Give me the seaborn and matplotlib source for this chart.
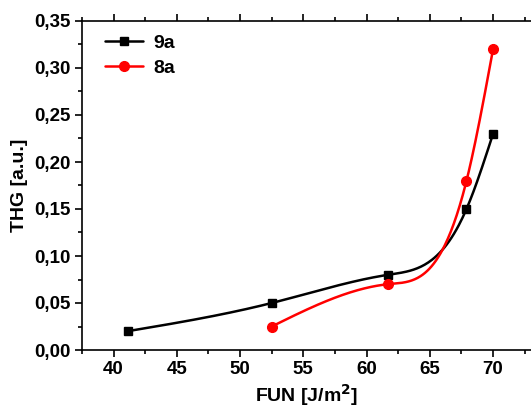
import numpy as np
import pandas as pd
import matplotlib
matplotlib.use("Agg")
import matplotlib.pyplot as plt
from matplotlib.lines import Line2D
from matplotlib.ticker import MultipleLocator, FuncFormatter
import seaborn as sns

# Data
fun_9a = [41.1, 52.5, 61.7, 67.9, 70.0]
thg_9a = [0.020, 0.050, 0.080, 0.150, 0.230]
fun_8a = [52.5, 61.7, 67.9, 70.0]
thg_8a = [0.025, 0.070, 0.180, 0.320]
labels = ["9a", "8a"]
colors = ["black", "red"]
markers = ["s", "o"]


def natural_spline(x, y, n=300):
    x = np.asarray(x, float); y = np.asarray(y, float)
    m = len(x)
    h = np.diff(x)
    A = np.zeros((m, m)); b = np.zeros(m)
    A[0, 0] = 1; A[-1, -1] = 1
    for i in range(1, m - 1):
        A[i, i - 1] = h[i - 1]
        A[i, i] = 2 * (h[i - 1] + h[i])
        A[i, i + 1] = h[i]
        b[i] = 3 * ((y[i + 1] - y[i]) / h[i] - (y[i] - y[i - 1]) / h[i - 1])
    c = np.linalg.solve(A, b)
    xs = np.linspace(x[0], x[-1], n)
    ys = np.empty_like(xs)
    for k, xv in enumerate(xs):
        i = min(np.searchsorted(x, xv, side="right") - 1, m - 2)
        i = max(i, 0)
        dx = xv - x[i]
        bb = (y[i + 1] - y[i]) / h[i] - h[i] * (2 * c[i] + c[i + 1]) / 3
        d = (c[i + 1] - c[i]) / (3 * h[i])
        ys[k] = y[i] + bb * dx + c[i] * dx ** 2 + d * dx ** 3
    return xs, ys


sns.set_style("ticks")
plt.rcParams["font.family"] = ["Liberation Sans", "DejaVu Sans"]
plt.rcParams["font.weight"] = "bold"
plt.rcParams["text.color"] = "black"
plt.rcParams["axes.labelcolor"] = "black"
plt.rcParams["xtick.color"] = "black"
plt.rcParams["ytick.color"] = "black"
plt.rcParams["axes.edgecolor"] = "black"

fig = plt.figure(figsize=(5.31, 4.11), dpi=100)
ax = fig.add_axes([82 / 531, 61 / 411, 449 / 531, 329 / 411])

sq_ms, ci_ms = 6, 7
series = [(fun_9a, thg_9a), (fun_8a, thg_8a)]
for (xv, yv), lab, col, mk in zip(series, labels, colors, markers):
    xs, ys = natural_spline(xv, yv)
    sns.lineplot(x=xs, y=ys, ax=ax, color=col, lw=1.8, sort=False, estimator=None)
    ax.plot(xv, yv, linestyle="none", marker=mk, color=col,
            markersize=sq_ms if mk == "s" else ci_ms, zorder=5)

ax.set_xlim(37.5, 73.0)
ax.set_ylim(0, 0.35)
ax.xaxis.set_major_locator(MultipleLocator(5))
ax.xaxis.set_minor_locator(MultipleLocator(2.5))
ax.yaxis.set_major_locator(MultipleLocator(0.05))
ax.yaxis.set_minor_locator(MultipleLocator(0.025))
ax.yaxis.set_major_formatter(FuncFormatter(lambda v, p: f"{v:.2f}".replace(".", ",")))

for s in ax.spines.values():
    s.set_linewidth(1.2)
ax.spines["right"].set_visible(False)
ax.tick_params(axis="both", which="major", direction="out", length=5, width=1.2,
               labelsize=13.5, pad=3)
ax.tick_params(axis="both", which="minor", direction="out", length=3, width=1.2)
ax.tick_params(axis="x", which="both", top=True)
for lab in ax.get_xticklabels() + ax.get_yticklabels():
    lab.set_fontweight("bold")

ax.set_xlabel("FUN [J/m$^\\mathbf{2}$]", fontsize=14, fontweight="bold", labelpad=3)
ax.set_ylabel("THG [a.u.]", fontsize=14, fontweight="bold", labelpad=5)

handles = [Line2D([0], [0], color=c, lw=1.8, marker=m,
                  markersize=sq_ms if m == "s" else ci_ms)
           for c, m in zip(colors, markers)]
leg = ax.legend(handles, labels, loc="upper left", frameon=False, fontsize=14,
                handlelength=2.0, handletextpad=0.5, labelspacing=0.35,
                borderaxespad=0.3, bbox_to_anchor=(0.02, 1.0))
for t in leg.get_texts():
    t.set_fontweight("bold")

fig.savefig("out.png", dpi=100)
